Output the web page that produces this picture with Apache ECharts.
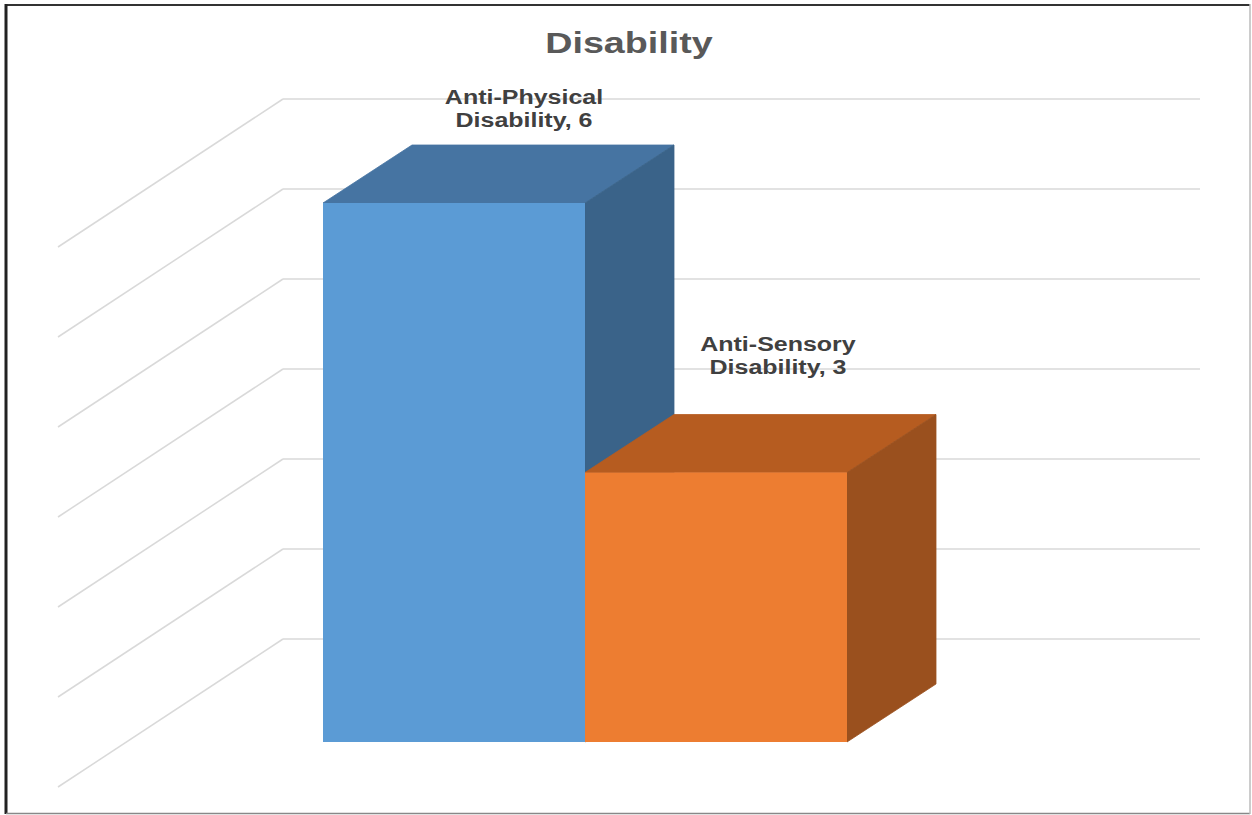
<!DOCTYPE html>
<html>
<head>
<meta charset="utf-8">
<script src="https://cdn.jsdelivr.net/npm/echarts@6/dist/echarts.min.js"></script>
<style>
html,body{margin:0;padding:0;background:#fff;}
#chart{width:1252px;height:815px;}
</style>
</head>
<body>
<div id="chart"></div>
<script>
// ---- data ----
const titleText = 'Disability';
const categories = ['Anti-Physical Disability', 'Anti-Sensory Disability'];
const values = [6, 3];
const wallTicks = [0, 1, 2, 3, 4, 5, 6];

// ---- styles ----
const faceColors = [
  { front: '#5B9BD5', top: '#4674A2', side: '#3A6389' },
  { front: '#ED7D31', top: '#B65C20', side: '#9A501E' }
];
const DEPTH = [89, -58];          // oblique depth offset of each bar (px)
const SIDE_WALL = [-225, 148];    // direction of the side-wall lines (px)
const labelNudge = [[-19, -36], [-27, -59]];
const FONT = '"Liberation Sans", Arial, sans-serif';

const chart = echarts.init(document.getElementById('chart'), null, { renderer: 'svg' });

const option = {
  backgroundColor: '#ffffff',
  animation: false,
  grid: [
    { left: 323, right: 405, top: 203, bottom: 73 },   // bar front plane
    { left: 283, right: 52, top: 99, bottom: 176 }     // back wall
  ],
  xAxis: [
    { gridIndex: 0, type: 'category', data: categories, show: false },
    { gridIndex: 1, type: 'value', min: 0, max: 1, show: false }
  ],
  yAxis: [
    { gridIndex: 0, type: 'value', min: 0, max: 6, show: false, splitLine: { show: false } },
    { gridIndex: 1, type: 'value', min: 0, max: 6, interval: 1,
      axisLabel: { show: false }, axisLine: { show: false }, axisTick: { show: false },
      splitLine: { show: true, lineStyle: { color: '#d9d9d9', width: 1.5 } } }
  ],
  graphic: [
    { type: 'text', x: 629, y: 43, scaleX: 1.3, z: 10,
      style: { text: titleText, fontSize: 29, fontWeight: 'bold', fontFamily: FONT,
               fill: '#595959', align: 'center', verticalAlign: 'middle',
               textAlign: 'center', textVerticalAlign: 'middle' } },
    { type: 'line', shape: { x1: 6, y1: 5, x2: 1250, y2: 5 }, style: { stroke: '#333', lineWidth: 2 } },
    { type: 'line', shape: { x1: 6, y1: 4, x2: 6, y2: 814 }, style: { stroke: '#222', lineWidth: 3 } },
    { type: 'line', shape: { x1: 6, y1: 813.5, x2: 1250, y2: 813.5 }, style: { stroke: '#888', lineWidth: 1.5 } },
    { type: 'line', shape: { x1: 1250, y1: 4, x2: 1250, y2: 814 }, style: { stroke: '#bbb', lineWidth: 1.5 } }
  ],
  series: [
    {
      type: 'custom',
      xAxisIndex: 1, yAxisIndex: 1,
      data: wallTicks.map(t => [0, t]),
      encode: { x: 0, y: 1 },
      silent: true,
      z: 1,
      renderItem: function (params, api) {
        const p = api.coord([0, api.value(1)]);
        return {
          type: 'line',
          shape: { x1: p[0], y1: p[1], x2: p[0] + SIDE_WALL[0], y2: p[1] + SIDE_WALL[1] },
          style: { stroke: '#d9d9d9', lineWidth: 1.5 }
        };
      }
    },
    {
      type: 'custom',
      xAxisIndex: 0, yAxisIndex: 0,
      data: values.map((v, i) => [i, v]),
      encode: { x: 0, y: 1 },
      z: 5,
      renderItem: function (params, api) {
        const i = params.dataIndex;
        const v = api.value(1);
        const topPt = api.coord([i, v]);
        const basePt = api.coord([i, 0]);
        const w = api.size([1, 0])[0];
        const x0 = topPt[0] - w / 2, x1 = topPt[0] + w / 2;
        const yT = topPt[1], yB = basePt[1];
        const dx = DEPTH[0], dy = DEPTH[1];
        const c = faceColors[i % faceColors.length];
        const name = categories[i].replace(' ', '\n') + ', ' + v;
        return {
          type: 'group',
          children: [
            { type: 'polygon', shape: { points: [[x0, yT], [x0 + dx, yT + dy], [x1 + dx, yT + dy], [x1, yT]] },
              style: { fill: c.top, stroke: c.top, lineWidth: 0.8 } },
            { type: 'polygon', shape: { points: [[x1, yT], [x1 + dx, yT + dy], [x1 + dx, yB + dy], [x1, yB]] },
              style: { fill: c.side, stroke: c.side, lineWidth: 0.8 } },
            { type: 'rect', shape: { x: x0, y: yT, width: x1 - x0, height: yB - yT },
              style: { fill: c.front } },
            { type: 'text',
              x: (x0 + x1) / 2 + dx + labelNudge[i][0],
              y: yT + dy + labelNudge[i][1],
              scaleX: 1.25,
              style: { text: name, fontSize: 20, fontWeight: 'bold', fontFamily: FONT,
                       fill: '#404040', lineHeight: 23,
                       align: 'center', verticalAlign: 'middle',
                       textAlign: 'center', textVerticalAlign: 'middle' } }
          ]
        };
      }
    }
  ]
};
chart.setOption(option);
</script>
</body>
</html>
